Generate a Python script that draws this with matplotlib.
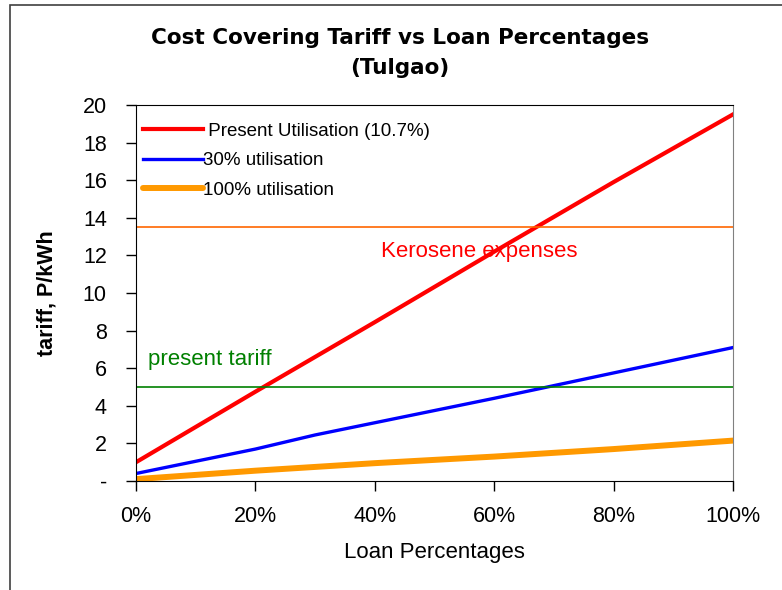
import numpy as np
import matplotlib.pyplot as plt
from matplotlib.ticker import FuncFormatter
from matplotlib.patches import Rectangle

plt.rcParams['font.family'] = ['Liberation Sans', 'DejaVu Sans']

# prestamo (fraccion) y tarifas en P/kWh
loan = [0.0, 0.2, 0.4, 0.6, 0.8, 1.0]
tarifa_actual = [1.0, 4.75, 8.45, 12.2, 15.9, 19.5]
loan_30 = [0.0, 0.2, 0.3, 0.4, 0.6, 0.8, 1.0]
tarifa_30 = [0.4, 1.7, 2.45, 3.1, 4.4, 5.75, 7.1]
tarifa_100 = [0.1, 0.55, 0.95, 1.3, 1.7, 2.15]

kerosene = 13.5
tarifa_presente = 5.0

fig = plt.figure(figsize=(7.82, 5.90), dpi=100)
ax = fig.add_axes([0.1739, 0.1847, 0.7634, 0.6373])

ax.plot(loan, tarifa_actual, color='#ff0000', lw=3, label=' Present Utilisation (10.7%)')
ax.plot(loan_30, tarifa_30, color='#0000ff', lw=2.4, label='30% utilisation')
ax.plot(loan, tarifa_100, color='#ff9900', lw=4.3, label='100% utilisation', solid_capstyle='round')

ax.axhline(kerosene, color='#ff6600', lw=1.2)
ax.axhline(tarifa_presente, color='#008000', lw=1.2)
ax.text(0.575, 12.2, 'Kerosene expenses', color='#ff0000', fontsize=16, ha='center', va='center')
ax.text(0.02, 6.45, 'present tariff', color='#008000', fontsize=16, ha='left', va='center')

ax.set_xlim(0, 1)
ax.set_ylim(0, 20)
ax.set_xticks(np.arange(0, 1.01, 0.2))
ax.set_yticks(np.arange(0, 21, 2))
ax.xaxis.set_major_formatter(FuncFormatter(lambda v, p: f'{v*100:.0f}%'))
ax.yaxis.set_major_formatter(FuncFormatter(lambda v, p: '-' if v == 0 else f'{v:.0f}'))
ax.tick_params(axis='both', labelsize=15.5, direction='out', length=7, width=1)
ax.tick_params(axis='y', pad=14)
ax.tick_params(axis='x', pad=11)
ax.spines['right'].set_color('#808080')
ax.set_xlabel('Loan Percentages', fontsize=16, labelpad=11)
ax.set_ylabel('tariff, P/kWh', fontsize=15.5, fontweight='bold', labelpad=18)

# titulo centrado en la figura
fig.text(400 / 782, 1 - 53 / 590, 'Cost Covering Tariff vs Loan Percentages\n(Tulgao)',
         fontsize=15.5, family='DejaVu Sans', fontweight='bold', linespacing=1.65,
         ha='center', va='center')

leg = ax.legend(loc='upper left', bbox_to_anchor=(0.0, 0.973), frameon=False, fontsize=13.5,
                handlelength=3.2, handletextpad=0.0, labelspacing=0.66, borderaxespad=0)

# marco exterior
fig.add_artist(Rectangle((10 / 782, -0.1), 1.2, 1.0915, transform=fig.transFigure,
                         fill=False, edgecolor='#404040', lw=1.2))

fig.savefig('out.png', dpi=100)
